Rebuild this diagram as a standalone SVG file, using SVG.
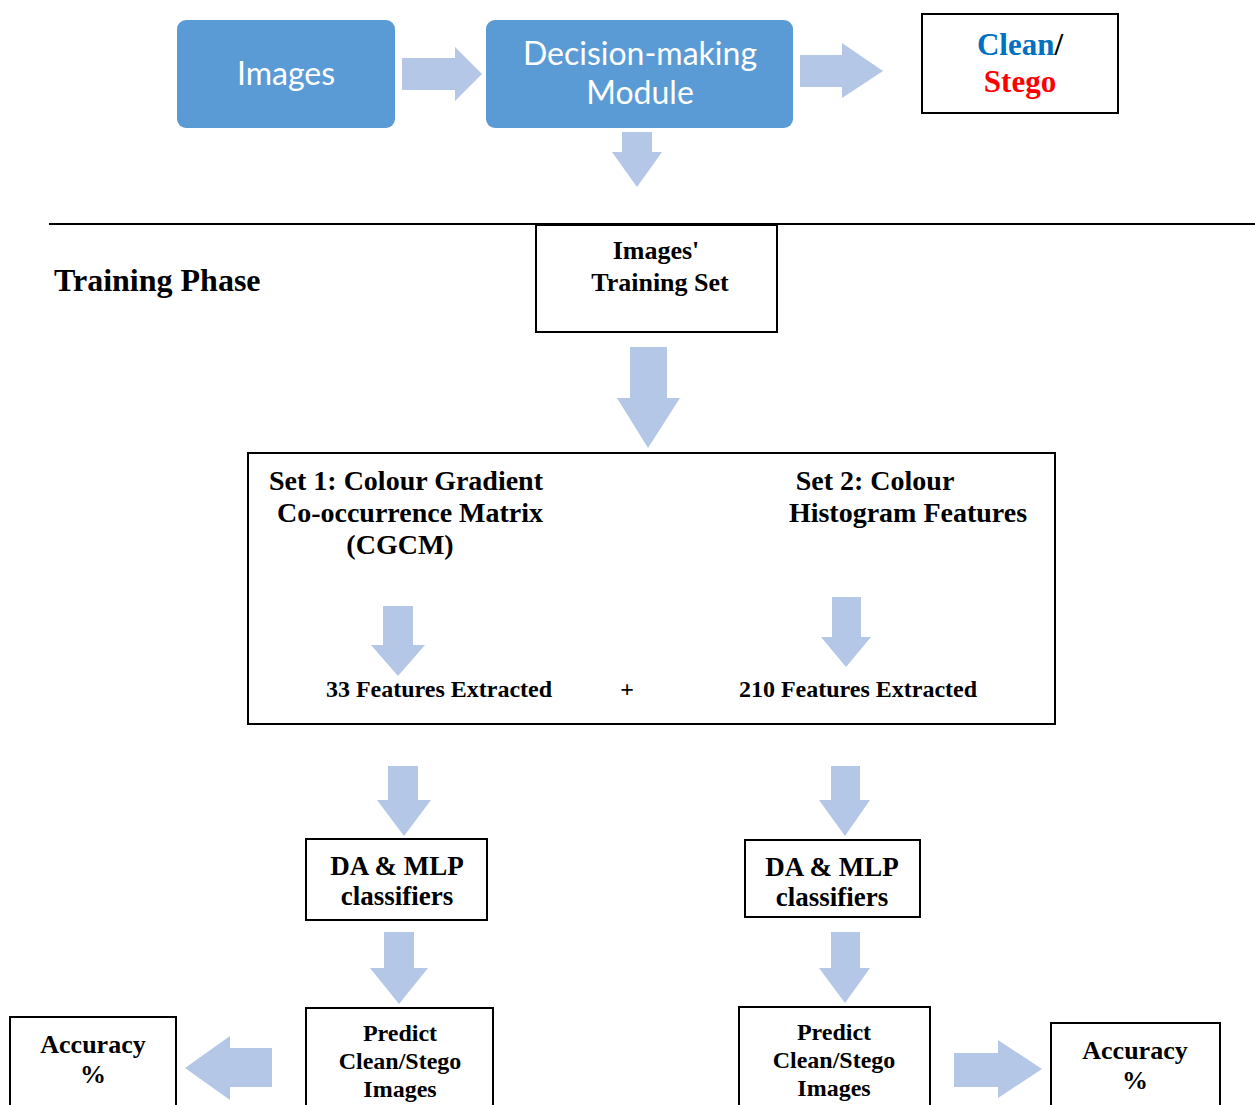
<svg xmlns="http://www.w3.org/2000/svg" width="1255" height="1105" viewBox="0 0 1255 1105">
<defs>
<style>
.blue{fill:#5B9BD5;}
.arr{fill:#B4C7E7;}
.box{fill:#fff;stroke:#000;stroke-width:2;}
.wt{font-family:Lato,"Open Sans",sans-serif;fill:#fff;font-size:32px;text-anchor:middle;}
.tb{font-family:"Liberation Serif","Times New Roman",serif;font-weight:bold;fill:#000;text-anchor:middle;}
</style>
</defs>
<rect width="1255" height="1105" fill="#fff"/>
<line x1="49" y1="224" x2="1255" y2="224" stroke="#000" stroke-width="2"/>
<g id="images">
<rect class="blue" x="177" y="20" width="218" height="108" rx="9"/>
<text class="wt" x="286" y="85">Images</text>
</g>
<g id="decision">
<rect class="blue" x="486" y="20" width="307" height="108" rx="9"/>
<text class="wt" x="640" y="65">Decision-making</text>
<text class="wt" x="640" y="104">Module</text>
</g>
<g id="clean-stego">
<rect class="box" x="922" y="14" width="196" height="99"/>
<text class="tb" x="1020" y="55" font-size="31"><tspan style="fill:#0070C0">Clean</tspan>/</text>
<text class="tb" x="1020" y="92" font-size="31" style="fill:#FF0000">Stego</text>
</g>
<g id="training-phase">
<text class="tb" x="54" y="291" font-size="32" style="text-anchor:start">Training Phase</text>
</g>
<g id="training-set">
<rect class="box" x="536" y="225" width="241" height="107"/>
<text class="tb" x="656" y="259" font-size="26">Images'</text>
<text class="tb" x="660" y="291" font-size="26">Training Set</text>
</g>
<g id="feature-sets">
<rect class="box" x="248" y="453" width="807" height="271"/>
<text class="tb" x="406" y="490" font-size="28">Set 1: Colour Gradient</text>
<text class="tb" x="410" y="522" font-size="28">Co-occurrence Matrix</text>
<text class="tb" x="400" y="554" font-size="28">(CGCM)</text>
<text class="tb" x="875" y="490" font-size="28">Set 2: Colour</text>
<text class="tb" x="908" y="522" font-size="28">Histogram Features</text>
<text class="tb" x="439" y="697" font-size="24">33 Features Extracted</text>
<text class="tb" x="627" y="697" font-size="24">+</text>
<text class="tb" x="858" y="697" font-size="24">210 Features Extracted</text>
</g>
<g id="da-mlp-1">
<rect class="box" x="306" y="839" width="181" height="81"/>
<text class="tb" x="397" y="875" font-size="27">DA &amp; MLP</text>
<text class="tb" x="397" y="905" font-size="27">classifiers</text>
</g>
<g id="da-mlp-2">
<rect class="box" x="745" y="840" width="175" height="77"/>
<text class="tb" x="832" y="876" font-size="27">DA &amp; MLP</text>
<text class="tb" x="832" y="906" font-size="27">classifiers</text>
</g>
<g id="predict-1">
<rect class="box" x="306" y="1008" width="187" height="110"/>
<text class="tb" x="400" y="1041" font-size="24">Predict</text>
<text class="tb" x="400" y="1069" font-size="24">Clean/Stego</text>
<text class="tb" x="400" y="1097" font-size="24">Images</text>
</g>
<g id="predict-2">
<rect class="box" x="739" y="1007" width="191" height="110"/>
<text class="tb" x="834" y="1040" font-size="24">Predict</text>
<text class="tb" x="834" y="1068" font-size="24">Clean/Stego</text>
<text class="tb" x="834" y="1096" font-size="24">Images</text>
</g>
<g id="accuracy-1">
<rect class="box" x="10" y="1017" width="166" height="100"/>
<text class="tb" x="93" y="1053" font-size="26">Accuracy</text>
<text class="tb" x="93" y="1083" font-size="26">%</text>
</g>
<g id="accuracy-2">
<rect class="box" x="1051" y="1023" width="169" height="100"/>
<text class="tb" x="1135" y="1059" font-size="26">Accuracy</text>
<text class="tb" x="1135" y="1089" font-size="26">%</text>
</g>
<g id="connectors">
<polygon class="arr" points="402,58 455,58 455,47 482,74 455,101 455,90 402,90"/>
<polygon class="arr" points="800,55 842,55 842,43 883,71 842,98 842,87 800,87"/>
<polygon class="arr" points="622,132 652,132 652,152 662,152 637,187 612,152 622,152"/>
<polygon class="arr" points="630,347 667,347 667,398 680,398 648,448 617,398 630,398"/>
<polygon class="arr" points="383,606 413,606 413,645 425,645 398,676 371,645 383,645"/>
<polygon class="arr" points="832,597 861,597 861,637 871,637 846,667 821,637 832,637"/>
<polygon class="arr" points="388,766 418,766 418,800 431,800 404,836 377,800 388,800"/>
<polygon class="arr" points="831,766 860,766 860,800 870,800 845,836 819,800 831,800"/>
<polygon class="arr" points="384,932 414,932 414,968 428,968 399,1004 370,968 384,968"/>
<polygon class="arr" points="831,932 860,932 860,968 870,968 845,1003 819,968 831,968"/>
<polygon class="arr" points="272,1048 230,1048 230,1036 185,1068 230,1100 230,1087 272,1087"/>
<polygon class="arr" points="954,1053 998,1053 998,1040 1042,1069 998,1098 998,1087 954,1087"/>
</g>
</svg>
